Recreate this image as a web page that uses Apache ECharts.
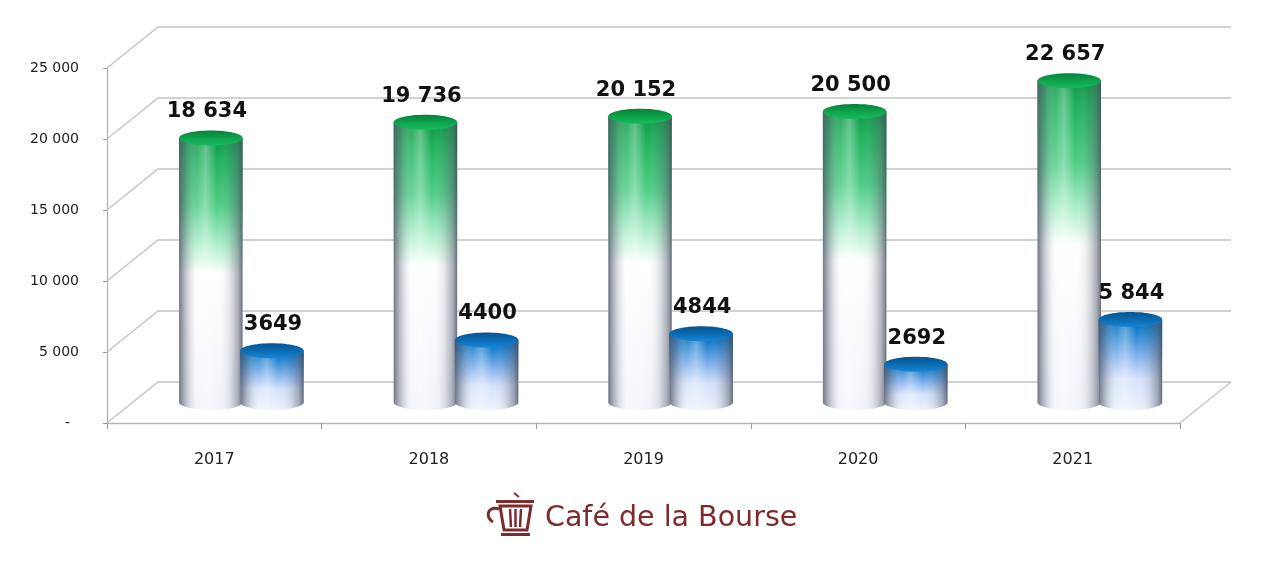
<!DOCTYPE html>
<html>
<head>
<meta charset="utf-8">
<style>
html,body{margin:0;padding:0;background:#fff;}
#chart{width:1280px;height:565px;}
</style>
<script src="https://cdn.jsdelivr.net/npm/echarts@6/dist/echarts.min.js"></script>
</head>
<body>
<div id="chart"></div>
<script>
const years = ['2017', '2018', '2019', '2020', '2021'];
const greenValues = [18634, 19736, 20152, 20500, 22657];
const blueValues = [3649, 4400, 4844, 2692, 5844];
const greenLabels = ['18 634', '19 736', '20 152', '20 500', '22 657'];
const blueLabels = ['3649', '4400', '4844', '2692', '5 844'];
const yTicks = [0, 5000, 10000, 15000, 20000, 25000];
const yTickLabels = ['-', '5 000', '10 000', '15 000', '20 000', '25 000'];

const DX = 51, DY = -41;          // depth offset of the back wall (px)
const GRID_COLOR = '#c4c4c4';
const LOGO_COLOR = '#7d2c2c';

const chart = echarts.init(document.getElementById('chart'));

function gridRender(params, api) {
  const cs = params.coordSys;
  const v = api.value(1);
  const y = api.coord([0, v])[1];
  const x0 = cs.x, x1 = cs.x + cs.width;
  const children = [{
    type: 'polyline',
    shape: { points: [[x0, y], [x0 + DX, y + DY], [x1 + DX, y + DY]] },
    style: { stroke: GRID_COLOR, lineWidth: 1.3, fill: null }
  }];
  if (v === 0) {
    children.push({
      type: 'line',
      shape: { x1: x1, y1: y, x2: x1 + DX, y2: y + DY },
      style: { stroke: GRID_COLOR, lineWidth: 1.3 }
    });
  }
  return { type: 'group', children: children };
}

function makeCylinder(offsetFrac, bodyStops, topStops, labels, labelDx) {
  return function (params, api) {
    const idx = api.value(0);
    const val = api.value(1);
    const top = api.coord([idx, val]);
    const base = api.coord([idx, 0]);
    const band = api.size([1, 0])[0];
    const cx = top[0] + offsetFrac * band + DX / 2;
    const topY = top[1] + DY / 2;
    const baseY = base[1] + DY / 2;
    const rx = band * 0.148;
    const ry = 7.5;
    const path = 'M' + (cx - rx) + ',' + topY +
      ' L' + (cx - rx) + ',' + baseY +
      ' A' + rx + ',' + ry + ' 0 0 0 ' + (cx + rx) + ',' + baseY +
      ' L' + (cx + rx) + ',' + topY + ' Z';
    return {
      type: 'group',
      children: [
        {
          type: 'path',
          shape: { pathData: path },
          style: { fill: new echarts.graphic.LinearGradient(0, 0, 0, 1, bodyStops) }
        },
        {
          type: 'path',
          shape: { pathData: path },
          style: {
            fill: new echarts.graphic.LinearGradient(0, 0, 1, 0, [
              { offset: 0, color: 'rgba(80,86,102,0.80)' },
              { offset: 0.1, color: 'rgba(110,116,132,0.45)' },
              { offset: 0.28, color: 'rgba(255,255,255,0.15)' },
              { offset: 0.42, color: 'rgba(255,255,255,0.35)' },
              { offset: 0.6, color: 'rgba(255,255,255,0)' },
              { offset: 0.8, color: 'rgba(110,116,132,0.18)' },
              { offset: 0.93, color: 'rgba(90,96,112,0.50)' },
              { offset: 1, color: 'rgba(70,76,92,0.80)' }
            ])
          }
        },
        {
          type: 'ellipse',
          shape: { cx: cx, cy: topY, rx: rx, ry: ry },
          style: { fill: new echarts.graphic.LinearGradient(0, 0, 0, 1, topStops) }
        },
        {
          type: 'text',
          style: {
            text: labels[idx],
            x: cx + labelDx,
            y: topY - 26,
            align: 'center',
            verticalAlign: 'middle',
            fill: '#111111',
            fontSize: 21,
            fontWeight: 'bold',
            fontFamily: 'DejaVu Sans'
          }
        }
      ]
    };
  };
}

const greenBody = [
  { offset: 0, color: '#0b9443' },
  { offset: 0.07, color: '#1aae58' },
  { offset: 0.25, color: '#4fcd86' },
  { offset: 0.38, color: '#a6ecc6' },
  { offset: 0.47, color: '#e6fbef' },
  { offset: 0.5, color: '#ffffff' },
  { offset: 1, color: '#f2f4fa' }
];
const greenTop = [
  { offset: 0, color: '#07803a' },
  { offset: 0.6, color: '#10a84f' },
  { offset: 1, color: '#16bb5c' }
];
const blueBody = [
  { offset: 0, color: '#0a5c9e' },
  { offset: 0.12, color: '#167dcc' },
  { offset: 0.4, color: '#7fb0ec' },
  { offset: 0.65, color: '#d4e2fb' },
  { offset: 1, color: '#eef2fd' }
];
const blueTop = [
  { offset: 0, color: '#07548e' },
  { offset: 0.6, color: '#0d6fb8' },
  { offset: 1, color: '#1786d8' }
];

const option = {
  backgroundColor: '#ffffff',
  animation: false,
  grid: { left: 107, right: 100, top: 68, bottom: 142 },
  xAxis: {
    type: 'category',
    data: years,
    axisLine: { show: true, lineStyle: { color: '#b4b4b4', width: 1.3 } },
    axisTick: { show: true, length: 6, lineStyle: { color: '#9a9a9a' } },
    axisLabel: { margin: 29, color: '#222222', fontSize: 16, fontFamily: 'DejaVu Sans' },
    splitLine: { show: false }
  },
  yAxis: {
    type: 'value',
    min: 0,
    max: 25000,
    interval: 5000,
    axisLine: { show: true, lineStyle: { color: '#b4b4b4', width: 1.3 } },
    axisTick: { show: true, length: 4, lineStyle: { color: '#9a9a9a' } },
    splitLine: { show: false },
    axisLabel: {
      margin: 28,
      color: '#222222',
      fontSize: 14,
      fontFamily: 'DejaVu Sans',
      formatter: function (v) {
        const i = yTicks.indexOf(v);
        const t = i >= 0 ? yTickLabels[i] : '';
        return v === 0 ? '{dash|' + t + '}' : t;
      },
      rich: { dash: { padding: [0, 9, 0, 0], fontSize: 14, color: '#222222', fontFamily: 'DejaVu Sans' } }
    }
  },
  series: [
    {
      type: 'custom',
      name: 'grid',
      silent: true,
      clip: false,
      z: 1,
      renderItem: gridRender,
      data: yTicks.map(function (v) { return [0, v]; })
    },
    {
      type: 'custom',
      name: 'green',
      clip: false,
      z: 3,
      renderItem: makeCylinder(-0.135, greenBody, greenTop, greenLabels, -4),
      data: greenValues.map(function (v, i) { return [i, v]; })
    },
    {
      type: 'custom',
      name: 'blue',
      clip: false,
      z: 4,
      renderItem: makeCylinder(0.15, blueBody, blueTop, blueLabels, 1),
      data: blueValues.map(function (v, i) { return [i, v]; })
    }
  ],
  graphic: [
    {
      type: 'group',
      children: [
        { type: 'line', shape: { x1: 514, y1: 493, x2: 519, y2: 497 }, style: { stroke: LOGO_COLOR, lineWidth: 2 } },
        { type: 'rect', shape: { x: 496, y: 500, width: 38, height: 3 }, style: { fill: LOGO_COLOR } },
        { type: 'polygon', shape: { points: [[500, 506], [531, 506], [527, 530], [504, 530]] }, style: { fill: null, stroke: LOGO_COLOR, lineWidth: 3 } },
        { type: 'line', shape: { x1: 510, y1: 509, x2: 511, y2: 527 }, style: { stroke: LOGO_COLOR, lineWidth: 2.5 } },
        { type: 'line', shape: { x1: 515.5, y1: 509, x2: 515.5, y2: 527 }, style: { stroke: LOGO_COLOR, lineWidth: 2.5 } },
        { type: 'line', shape: { x1: 521, y1: 509, x2: 520, y2: 527 }, style: { stroke: LOGO_COLOR, lineWidth: 2.5 } },
        { type: 'rect', shape: { x: 501, y: 533, width: 29, height: 3 }, style: { fill: LOGO_COLOR } },
        { type: 'bezierCurve', shape: { x1: 499, y1: 509, cpx1: 487, cpy1: 505, cpx2: 485, cpy2: 518, x2: 493, y2: 522 }, style: { stroke: LOGO_COLOR, lineWidth: 3, fill: null } },
        {
          type: 'text',
          style: {
            text: 'Café de la Bourse',
            x: 545,
            y: 519,
            align: 'left',
            verticalAlign: 'middle',
            fill: LOGO_COLOR,
            fontSize: 28.5,
            fontFamily: 'DejaVu Sans'
          }
        }
      ]
    }
  ]
};

chart.setOption(option);
</script>
</body>
</html>
